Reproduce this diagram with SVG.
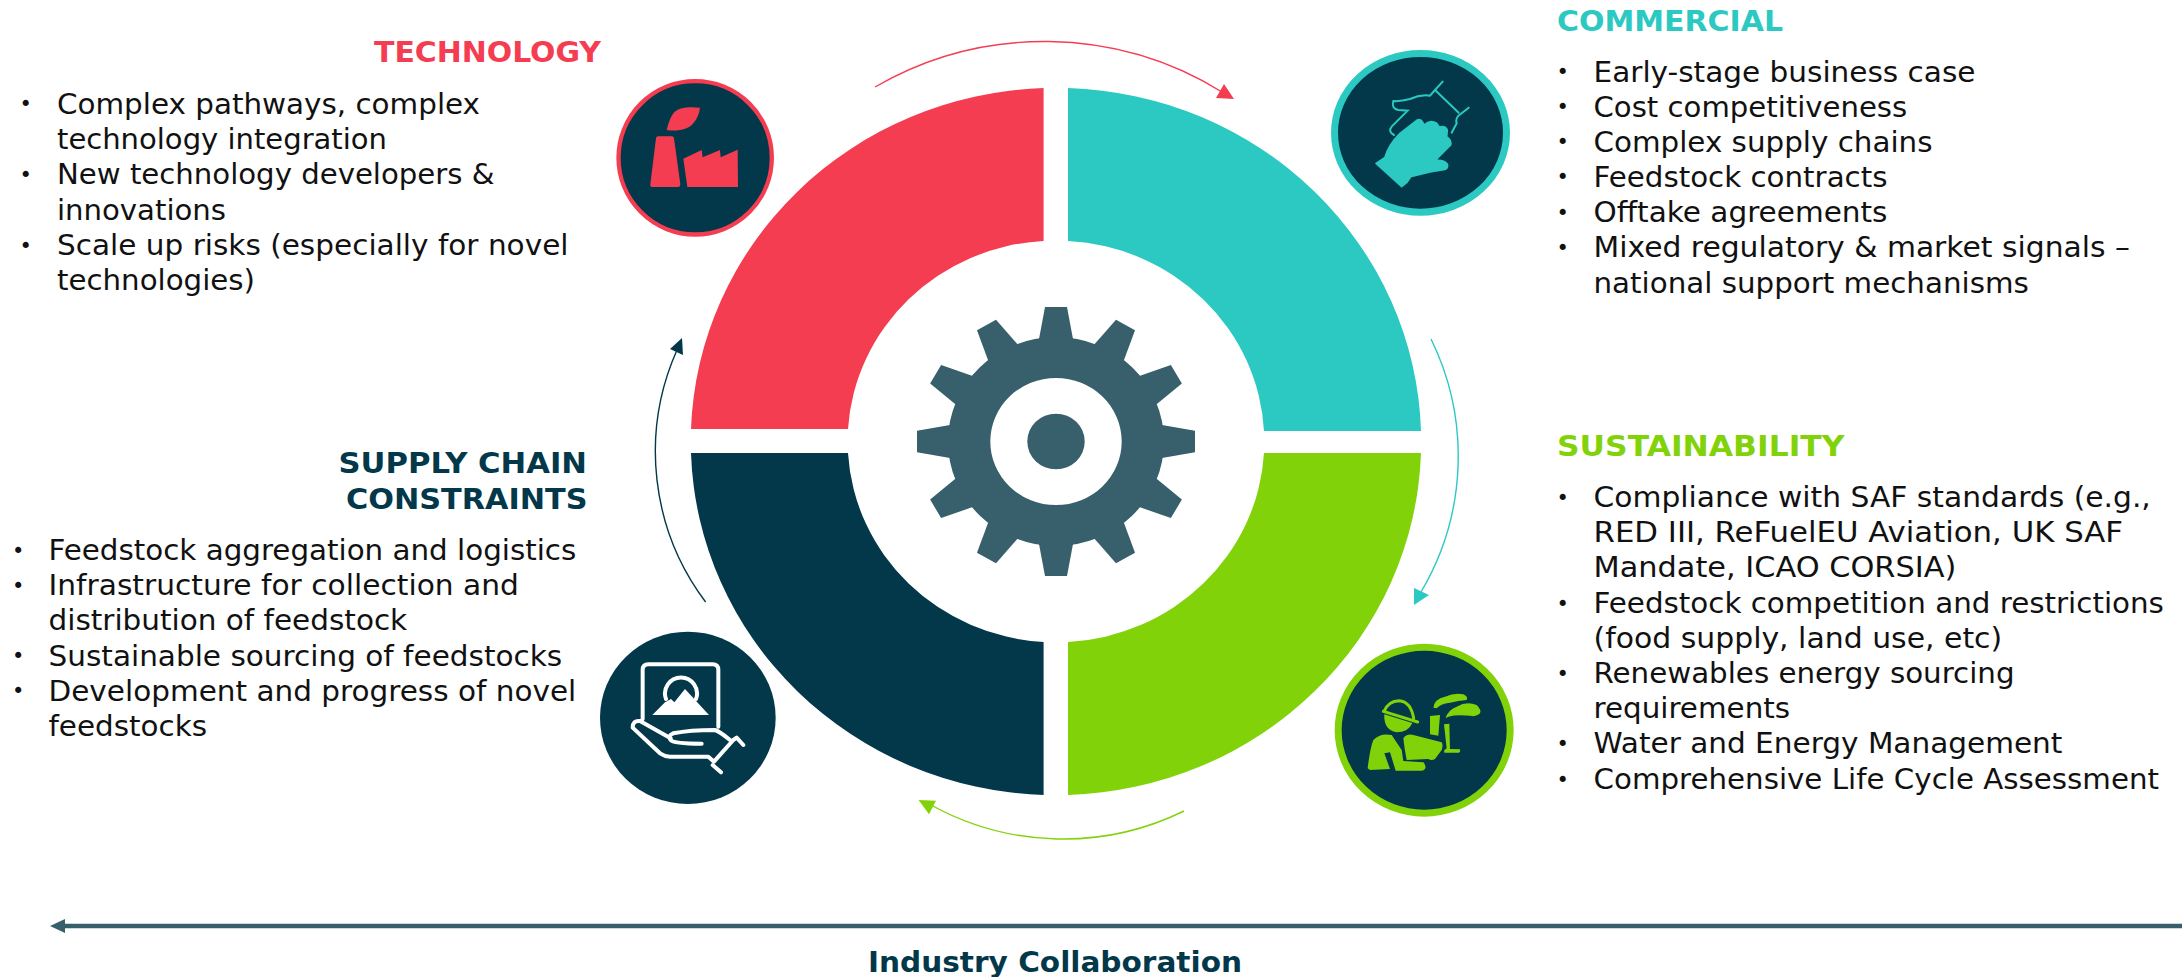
<svg xmlns="http://www.w3.org/2000/svg" width="2182" height="977" viewBox="0 0 2182 977">
<style>
text{font-family:"DejaVu Sans","Verdana",sans-serif}
.b{font-size:27.6px;fill:#111}
.d{font-size:21px;transform:translate(1.9px,-2.4px)}
.h{font-size:28px;font-weight:700}
.arc{fill:none;stroke-width:1.4}
.red{fill:#F53D52}.teal{fill:#2BC9C1}.green{fill:#82D20A}.navy{fill:#02384A}.gear{fill:#375F6C}
</style>
<defs><path id="tooth" d="M-17-106L-11-139H11L17-106Z"/></defs>
<rect width="2182" height="977" fill="#fff"/>
<g id="ring">
<path id="seg-technology" class="red" d="M691,429A365,353.5 0 0 1 1043.6,88V240.9A208,201 0 0 0 848,429Z"/>
<path id="seg-commercial" class="teal" d="M1421,431A365,353.5 0 0 0 1068,88V240.9A208,201 0 0 1 1264,431Z"/>
<path id="seg-sustainability" class="green" d="M1421,453A365,353.5 0 0 1 1068,795V642A208,201 0 0 0 1264,453Z"/>
<path id="seg-supply" class="navy" d="M691,453A365,353.5 0 0 0 1043.6,795V642A208,201 0 0 1 848,453Z"/>
</g>
<g id="gear" class="gear" transform="translate(1056,441.500) scale(1,.968)">
<path fill-rule="evenodd" d="M-108,0A108,108 0 1 1 108,0A108,108 0 1 1-108,0ZM-65.7,0A65.7,65.7 0 1 0 65.7,0A65.7,65.7 0 1 0-65.7,0Z"/>
<circle r="28.7"/>
<use href="#tooth"/><use href="#tooth" transform="rotate(30)"/><use href="#tooth" transform="rotate(60)"/><use href="#tooth" transform="rotate(90)"/><use href="#tooth" transform="rotate(120)"/><use href="#tooth" transform="rotate(150)"/><use href="#tooth" transform="rotate(180)"/><use href="#tooth" transform="rotate(210)"/><use href="#tooth" transform="rotate(240)"/><use href="#tooth" transform="rotate(270)"/><use href="#tooth" transform="rotate(300)"/><use href="#tooth" transform="rotate(330)"/>
</g>
<g id="connectors">
<path class="arc" stroke="#F53D52" d="M875,87A338,338 0 0 1 1222,92"/>
<path class="red" d="M1224,84L1234,99L1216,98Z"/>
<path class="arc" stroke="#2BC9C1" d="M1431,339A266,266 0 0 1 1421,592"/>
<path class="teal" d="M1414,588L1429,595L1414,605Z"/>
<path class="arc" stroke="#82D20A" d="M1184,811A274,274 0 0 1 931,805"/>
<path class="green" d="M918.6,800L936,800.7L929,814.3Z"/>
<path class="arc" stroke="#02384A" d="M705.6,602A250,250 0 0 1 677,350"/>
<path class="navy" d="M682,338L670,349L683,355Z"/>
<path fill="none" stroke="#375F6C" stroke-width="4.4" d="M62,926H2182"/>
<path class="gear" d="M50,926L65,919V933Z"/>
</g>
<g id="icon-technology" transform="translate(600,60) scale(.33333)">
<circle cx="285.500" cy="293.500" r="230" class="navy" stroke="#F53D52" stroke-width="13"/>
<g class="red">
<path d="M300,143C270,140 235,140 220,160C210,175 205,190 200,210C230,215 265,210 280,190C292,175 298,160 300,143Z"/>
<path d="M174,229H216Q221,229 222,235L241,373Q241,381 235,381H156Q150,381 151,373L168,235Q169,229 174,229Z"/>
<path d="M250,296L305,270L308,292L360,270L362,292L413,269L414,381H262Z"/>
</g>
</g>
<g id="icon-commercial" transform="translate(1320,40) scale(.33333)">
<ellipse cx="301.500" cy="278.500" rx="258" ry="238" class="navy" stroke="#2BC9C1" stroke-width="21"/>
<path class="teal" stroke="#2BC9C1" stroke-width="5" stroke-linejoin="round" d="M168,370L195,352Q205,315 240,280L292,240Q305,235 312,255Q330,238 350,250L358,262Q375,255 382,270L380,290Q395,300 392,315L345,362Q370,358 382,372Q385,385 375,388L330,396L272,410L260,428L245,440Z"/>
<path fill="none" stroke="#2BC9C1" stroke-width="6" stroke-linecap="round" d="M368,125L345,150L416,218M446,203L418,225Q405,235 410,250L395,278M345,150L330,167Q300,163 270,177Q240,185 220,183Q213,205 235,210L263,212L215,260Q203,275 222,285"/>
</g>
<g id="icon-sustainability" transform="translate(1325,635) scale(.33333)">
<ellipse cx="297.500" cy="285.500" rx="258" ry="249" class="navy" stroke="#82D20A" stroke-width="21"/>
<g class="green">
<path d="M178,238L262,264Q250,292 215,292Q175,285 178,238Z"/>
<path fill="none" stroke="#82D20A" stroke-width="9" stroke-linecap="round" d="M175,229L278,261M178,228Q190,198 222,197Q258,200 266,250"/>
<path d="M128,400Q135,340 145,315Q165,293 200,300L230,345L235,378L295,382Q305,392 300,402Q296,407 290,407H212L195,352L178,355L195,402L135,405Z"/>
<path d="M235,310Q245,295 265,300L350,322Q355,330 350,345L330,372Q320,378 310,372L245,375Q238,340 235,310Z"/>
<path d="M315,243L345,240L340,302L315,298Z"/>
<path d="M357,268L373,266L375,342L405,343Q408,350 402,353L358,353Q355,345 365,340Z"/>
<path d="M325,218Q328,192 360,185Q390,172 415,178Q430,185 425,195Q400,197 375,203Q345,207 335,220Z"/>
<path d="M362,250Q368,225 395,215Q425,198 455,210Q470,225 465,235Q455,247 435,242Q395,238 370,245Z"/>
</g>
</g>
<g id="icon-supply" transform="translate(590,625) scale(.33333)">
<ellipse cx="293.500" cy="278.500" rx="263.500" ry="258.500" class="navy"/>
<path fill="none" stroke="#fff" stroke-width="12" stroke-linecap="round" stroke-linejoin="round" d="M158,282V135Q158,118 175,118H368Q385,118 385,135V305M228,222A48,48 0 1 1 318,222M150,288Q128,285 128,308L210,385Q225,395 240,395H355L372,410L430,345M150,288L242,340M250,325Q300,315 375,315Q390,320 420,345M250,325Q232,332 242,345Q250,356 335,356M430,345L440,338L460,360M368,420L393,442"/>
<path fill="#fff" d="M187,270L225,232L243,222L253,232L285,192L357,270Z"/>
</g>
<g id="label-technology">
<text class="h red" x="374" y="62.300" textLength="227" lengthAdjust="spacingAndGlyphs">TECHNOLOGY</text>
<g class="b"><text class="d" x="17.500" y="113.500">•</text><text x="57" y="113.500" textLength="423" lengthAdjust="spacingAndGlyphs">Complex pathways, complex</text><text x="57" y="148.500" textLength="330" lengthAdjust="spacingAndGlyphs">technology integration</text><text class="d" x="17.500" y="184">•</text><text x="57" y="184" textLength="437.500" lengthAdjust="spacingAndGlyphs">New technology developers &amp;</text><text x="57" y="219.500" textLength="169" lengthAdjust="spacingAndGlyphs">innovations</text><text class="d" x="17.500" y="255">•</text><text x="57" y="255" textLength="511.500" lengthAdjust="spacingAndGlyphs">Scale up risks (especially for novel</text><text x="57" y="289.500" textLength="198" lengthAdjust="spacingAndGlyphs">technologies)</text></g>
</g>
<g id="label-commercial">
<text class="h teal" x="1557" y="30.700" textLength="226" lengthAdjust="spacingAndGlyphs">COMMERCIAL</text>
<g class="b"><text class="d" x="1554.500" y="81.700">•</text><text x="1593.500" y="81.700" textLength="382" lengthAdjust="spacingAndGlyphs">Early-stage business case</text><text class="d" x="1554.500" y="116.700">•</text><text x="1593.500" y="116.700" textLength="313.700" lengthAdjust="spacingAndGlyphs">Cost competitiveness</text><text class="d" x="1554.500" y="151.700">•</text><text x="1593.500" y="151.700" textLength="339" lengthAdjust="spacingAndGlyphs">Complex supply chains</text><text class="d" x="1554.500" y="186.700">•</text><text x="1593.500" y="186.700" textLength="294" lengthAdjust="spacingAndGlyphs">Feedstock contracts</text><text class="d" x="1554.500" y="222.300">•</text><text x="1593.500" y="222.300" textLength="294" lengthAdjust="spacingAndGlyphs">Offtake agreements</text><text class="d" x="1554.500" y="257.300">•</text><text x="1593.500" y="257.300" textLength="536.400" lengthAdjust="spacingAndGlyphs">Mixed regulatory &amp; market signals –</text><text x="1593.500" y="292.700" textLength="435.300" lengthAdjust="spacingAndGlyphs">national support mechanisms</text></g>
</g>
<g id="label-sustainability">
<text class="h green" x="1557" y="456" textLength="287.500" lengthAdjust="spacingAndGlyphs">SUSTAINABILITY</text>
<g class="b"><text class="d" x="1554.500" y="507.300">•</text><text x="1593.500" y="507.300" textLength="557.300" lengthAdjust="spacingAndGlyphs">Compliance with SAF standards (e.g.,</text><text x="1593.500" y="542.300" textLength="529.500" lengthAdjust="spacingAndGlyphs">RED III, ReFuelEU Aviation, UK SAF</text><text x="1593.500" y="577.300" textLength="362.800" lengthAdjust="spacingAndGlyphs">Mandate, ICAO CORSIA)</text><text class="d" x="1554.500" y="613.300">•</text><text x="1593.500" y="613.300" textLength="570.400" lengthAdjust="spacingAndGlyphs">Feedstock competition and restrictions</text><text x="1593.500" y="648.300" textLength="408.700" lengthAdjust="spacingAndGlyphs">(food supply, land use, etc)</text><text class="d" x="1554.500" y="683.300">•</text><text x="1593.500" y="683.300" textLength="421" lengthAdjust="spacingAndGlyphs">Renewables energy sourcing</text><text x="1593.500" y="718.300" textLength="196.600" lengthAdjust="spacingAndGlyphs">requirements</text><text class="d" x="1554.500" y="753.300">•</text><text x="1593.500" y="753.300" textLength="468.900" lengthAdjust="spacingAndGlyphs">Water and Energy Management</text><text class="d" x="1554.500" y="789">•</text><text x="1593.500" y="789" textLength="565.500" lengthAdjust="spacingAndGlyphs">Comprehensive Life Cycle Assessment</text></g>
</g>
<g id="label-supply">
<text class="h navy" x="338.500" y="473.300" textLength="248.500" lengthAdjust="spacingAndGlyphs">SUPPLY CHAIN</text><text class="h navy" x="346" y="508.700" textLength="241.500" lengthAdjust="spacingAndGlyphs">CONSTRAINTS</text>
<g class="b"><text class="d" x="10" y="560">•</text><text x="48.500" y="560" textLength="527.800" lengthAdjust="spacingAndGlyphs">Feedstock aggregation and logistics</text><text class="d" x="10" y="595">•</text><text x="48.500" y="595" textLength="470.400" lengthAdjust="spacingAndGlyphs">Infrastructure for collection and</text><text x="48.500" y="630" textLength="358.700" lengthAdjust="spacingAndGlyphs">distribution of feedstock</text><text class="d" x="10" y="665.700">•</text><text x="48.500" y="665.700" textLength="513.700" lengthAdjust="spacingAndGlyphs">Sustainable sourcing of feedstocks</text><text class="d" x="10" y="700.700">•</text><text x="48.500" y="700.700" textLength="527.800" lengthAdjust="spacingAndGlyphs">Development and progress of novel</text><text x="48.500" y="736" textLength="158.500" lengthAdjust="spacingAndGlyphs">feedstocks</text></g>
</g>
<g id="label-collaboration"><text class="h navy" x="868" y="972" textLength="374" lengthAdjust="spacingAndGlyphs">Industry Collaboration</text></g>
</svg>
